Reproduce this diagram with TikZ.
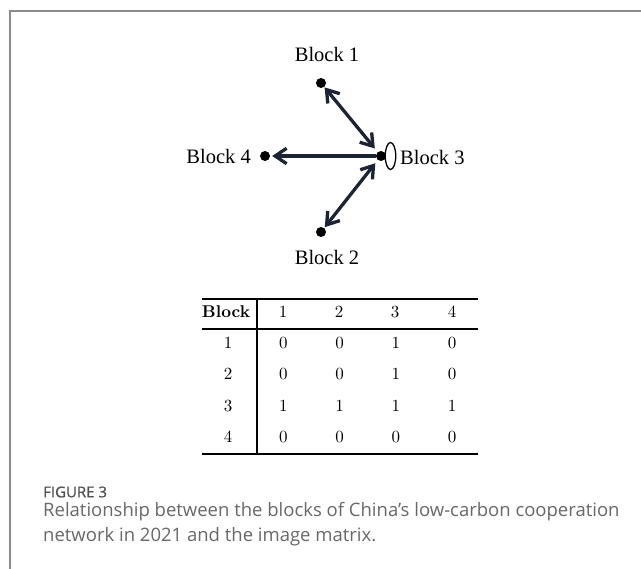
\documentclass[tikz,border=0pt]{standalone}
\usepackage{fontspec}
\newfontfamily\graphfont{Liberation Serif}
\newfontfamily\tabfont{lmroman10-regular.otf}[BoldFont=lmroman10-bold.otf]
\newfontfamily\capfont{Open Sans}
\newfontfamily\capheadfont{Open Sans}[FakeBold=0.7]
\usetikzlibrary{arrows.meta,shapes.geometric}
\definecolor{framegray}{HTML}{8C8C8C}
\definecolor{captext}{HTML}{686868}
\definecolor{caphead}{HTML}{505050}
\definecolor{arrowink}{HTML}{1C2333}
\tikzset{
  dotnode/.style={circle,fill=black,inner sep=0pt,minimum size=10pt},
  blocklabel/.style={font=\graphfont\fontsize{20.5}{24}\selectfont,inner sep=0pt},
  barb/.tip={Straight Barb[length=11.5pt,width=15.5pt]},
  link/.style={draw=arrowink,line width=3.3pt,arrows={barb-barb}},
  oneway/.style={draw=arrowink,line width=3.3pt,arrows={-barb}},
  cell/.style={font=\tabfont\fontsize{17}{20}\selectfont,inner sep=0pt,anchor=center},
  rule/.style={line width=1.4pt},
}
\begin{document}
\begin{tikzpicture}[x=1pt,y=-1pt]
\useasboundingbox (0,0) rectangle (641,569);
\fill[white] (0,0) rectangle (641,569);
% outer frame
\draw[framegray,line width=1.6pt] (10,569) -- (10,11) -- (641,11);

% network of blocks
\node[dotnode] (b1) at (321,83) {};
\node[dotnode] (b2) at (321,232) {};
\node[dotnode] (b3) at (381,156) {};
\node[dotnode] (b4) at (265,156) {};
\node[draw,ellipse,line width=1.3pt,minimum width=10.5pt,minimum height=27pt,inner sep=0pt] (b3ring) at (390.5,156) {};
\node[blocklabel] (l1) at (327,54) {Block 1};
\node[blocklabel] (l2) at (327,257) {Block 2};
\node[blocklabel,anchor=west] (l3) at (400,157) {Block 3};
\node[blocklabel,anchor=east] (l4) at (251,156) {Block 4};
\draw[link,shorten <=0.5pt,shorten >=4.5pt] (b1) -- (b3);
\draw[link,shorten <=1pt,shorten >=4pt] (b2) -- (b3);
\draw[oneway,shorten >=2pt] (b3) -- (b4);

% image matrix
\coordinate (tl) at (202,299);
\coordinate (tr) at (478,299);
\coordinate (ml) at (202,329);
\coordinate (mr) at (478,329);
\coordinate (bl) at (202,454);
\coordinate (br) at (478,454);
\coordinate (vt) at (257,299);
\coordinate (vb) at (257,454);
\draw[rule] (tl) -- (tr);
\draw[rule] (ml) -- (mr);
\draw[rule] (bl) -- (br);
\draw[rule] (vt) -- (vb);
\node[cell,font=\tabfont\bfseries\fontsize{17}{20}\selectfont] (hb) at (226,312) {Block};
\foreach \c/\x in {1/283,2/339,3/395,4/452}
  \node[cell] (h\c) at (\x,312) {\c};
\foreach \r/\y in {1/343,2/374,3/406,4/437}
  \node[cell] (r\r) at (228,\y) {\r};
\foreach \r/\y/\vals in {1/343/{0,0,1,0},2/374/{0,0,1,0},3/406/{1,1,1,1},4/437/{0,0,0,0}}{
  \foreach \v [count=\c] in \vals {
    \pgfmathsetmacro{\xx}{227+56.3*\c}
    \node[cell] (m\r\c) at (\xx,\y) {\v};
  }
}

% caption
\node[anchor=west,inner sep=0pt,text=caphead,font=\capheadfont\fontsize{15}{17}\selectfont] (fig) at (43,492) {FIGURE 3};
\node[anchor=west,inner sep=0pt,text=captext,font=\capfont\fontsize{18.5}{22}\selectfont] (cap1) at (43,512) {Relationship between the blocks of China’s low-carbon cooperation};
\node[anchor=west,inner sep=0pt,text=captext,font=\capfont\fontsize{18.5}{22}\selectfont] (cap2) at (43,537) {network in 2021 and the image matrix.};
\end{tikzpicture}
\end{document}
